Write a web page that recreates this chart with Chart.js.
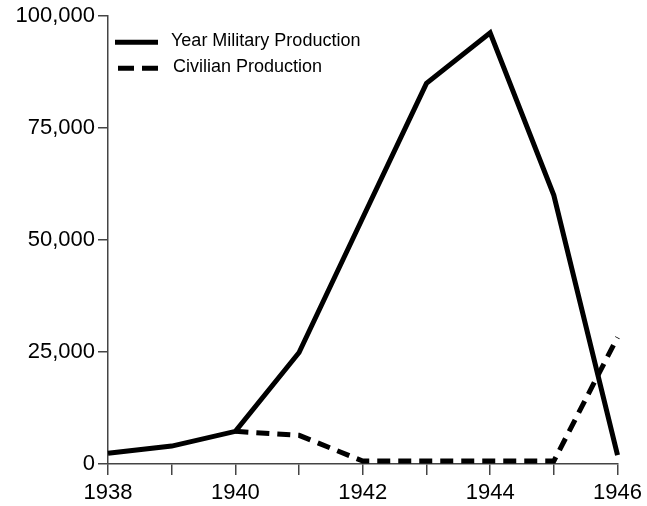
<!DOCTYPE html>
<html>
<head>
<meta charset="utf-8">
<script src="https://cdn.jsdelivr.net/npm/chart.js@4"></script>
<style>
  html, body { margin: 0; padding: 0; background: #fff; }
  #wrap { width: 647px; height: 506px; }
</style>
</head>
<body>
<div id="wrap"><canvas id="grafica"></canvas></div>
<script>
// datos
const anios = [1938, 1939, 1940, 1941, 1942, 1943, 1944, 1945, 1946];
const militar = [2400, 4000, 7300, 24900, 55000, 85000, 96300, 60000, 2000];
const civil = [null, null, 7300, 6400, 650, 650, 650, 650, 28300];
const ticksY = [0, 25000, 50000, 75000, 100000];

const fuente = "'Liberation Sans', Arial, Helvetica, sans-serif";

// leyenda dentro del area de la grafica, arriba a la izquierda
const leyendaInterna = {
    id: "leyendaInterna",
    afterDraw(chart) {
        const ctx = chart.ctx;
        const area = chart.chartArea;
        chart.data.datasets.forEach((ds, i) => {
            const y = area.top + 26 + i * 26;
            const punteada = ds.borderDash.length > 0;
            const x0 = area.left + (punteada ? 10 : 7);
            ctx.save();
            ctx.strokeStyle = ds.borderColor;
            ctx.lineWidth = 5;
            ctx.setLineDash(punteada ? [16, 8] : []);
            ctx.beginPath();
            ctx.moveTo(x0, y);
            ctx.lineTo(area.left + 50, y);
            ctx.stroke();
            ctx.setLineDash([]);
            ctx.fillStyle = "#000";
            ctx.font = "18px " + fuente;
            ctx.textBaseline = "middle";
            ctx.fillText(ds.label, area.left + 63 + i * 2, y - 1);
            ctx.restore();
        });
    }
};

new Chart(document.getElementById("grafica"), {
    type: "line",
    data: {
        datasets: [
            {
                label: "Year Military Production",
                data: anios.map((a, i) => ({ x: a, y: militar[i] })),
                borderColor: "#000",
                borderWidth: 5,
                borderDash: [],
                pointRadius: 0,
                tension: 0,
                clip: 6
            },
            {
                label: "Civilian Production",
                data: anios.map((a, i) => ({ x: a, y: civil[i] })),
                borderColor: "#000",
                borderWidth: 5,
                borderDash: [13, 8],
                pointRadius: 0,
                tension: 0,
                spanGaps: false,
                clip: 6
            }
        ]
    },
    options: {
        responsive: true,
        maintainAspectRatio: false,
        animation: false,
        layout: { padding: { top: 16, right: 29, left: 0, bottom: 0 } },
        plugins: {
            legend: { display: false },
            tooltip: { enabled: false }
        },
        scales: {
            x: {
                type: "linear",
                min: 1938,
                max: 1946,
                afterFit(scale) { scale.height = 42; },
                grid: {
                    drawOnChartArea: false,
                    drawTicks: true,
                    tickLength: 11,
                    color: "#444",
                    lineWidth: 1.5
                },
                border: { display: true, color: "#444", width: 1.5 },
                ticks: {
                    stepSize: 1,
                    autoSkip: false,
                    maxRotation: 0,
                    padding: 5,
                    color: "#000",
                    font: { family: fuente, size: 22 },
                    callback: (v) => (v % 2 === 0 ? String(v) : "")
                }
            },
            y: {
                min: 0,
                max: 100000,
                afterFit(scale) { scale.width = 108; },
                afterBuildTicks(scale) {
                    scale.ticks = ticksY.map(v => ({ value: v }));
                },
                grid: {
                    drawOnChartArea: false,
                    drawTicks: true,
                    tickLength: 10,
                    color: "#444",
                    lineWidth: 1.5
                },
                border: { display: true, color: "#444", width: 1.5 },
                ticks: {
                    padding: 3,
                    color: "#000",
                    font: { family: fuente, size: 22 },
                    callback: (v) => v.toLocaleString("en-US")
                }
            }
        }
    },
    plugins: [leyendaInterna]
});
</script>
</body>
</html>
